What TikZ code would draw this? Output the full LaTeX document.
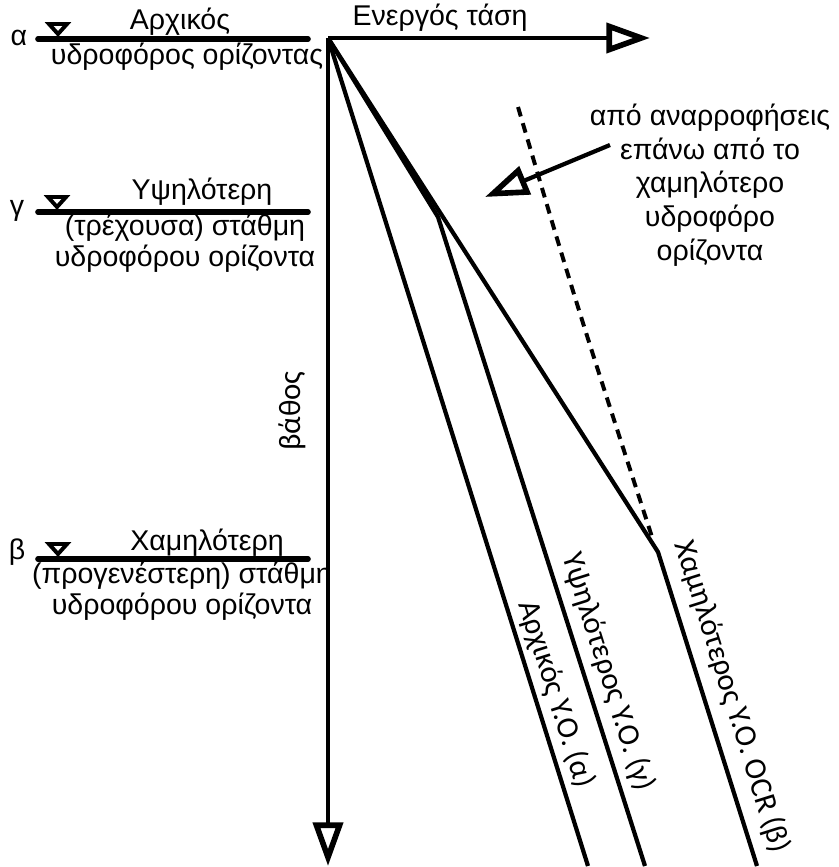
\documentclass[tikz,border=0pt]{standalone}
\usepackage{fontspec}
\setmainfont{Liberation Sans}
\newfontfamily\carlito{Carlito}
\usetikzlibrary{arrows.meta}

\begin{document}
\begin{tikzpicture}[x=0.025cm, y=-0.025cm,
        font=\fontsize{20.3}{22}\selectfont,
        heavy/.style={line width=3pt, line join=round},
        wtline/.style={line width=4pt, line cap=round},
        openhead/.style={-{Triangle[open, length=31pt, width=21pt, line width=4pt]}},
        tablemark/.style={line width=2.8pt, line join=miter},
        dotline/.style={line width=2.8pt, dash pattern=on 7pt off 5pt},
        linelabel/.style={font=\carlito\fontsize{22}{24}\selectfont, rotate=-72.5}]
        \useasboundingbox (0, 0) rectangle (838, 867);

        % axes
        \coordinate (O) at (328, 38);
        \coordinate (xend) at (650, 38);
        \coordinate (yend) at (328, 866);
        \draw[heavy, openhead] (O) -- (xend);
        \draw[heavy, openhead] (O) -- (yend);
        \node (stress) at (440, 18) {Ενεργός τάση};
        \node[rotate=90, font=\carlito\fontsize{22}{24}\selectfont] (depth) at (292, 411) {βάθος};

        % water tables
        \coordinate (wa1) at (38, 39);
        \coordinate (wa2) at (308, 39);
        \coordinate (wg1) at (38, 212);
        \coordinate (wg2) at (308, 212);
        \coordinate (wb1) at (38, 559);
        \coordinate (wb2) at (308, 559);
        \draw[wtline] (wa1) -- (wa2);
        \draw[wtline] (wg1) -- (wg2);
        \draw[wtline] (wb1) -- (wb2);
        \draw[tablemark] (58, 34) -- ++(-9, -10) -- ++(18, 0) -- cycle;
        \draw[tablemark] (57, 207) -- ++(-9, -10) -- ++(18, 0) -- cycle;
        \draw[tablemark] (58, 554) -- ++(-9, -10) -- ++(18, 0) -- cycle;

        \node (la) at (19, 38) {α};
        \node (lg) at (17, 211) {γ};
        \node (lb) at (17, 552) {β};
        \node (ta1) at (180, 22) {Αρχικός};
        \node (ta2) at (187, 57) {υδροφόρος ορίζοντας};
        \node (tg1) at (202, 192) {Υψηλότερη};
        \node[align=center] (tg2) at (185, 243) {(τρέχουσα) στάθμη\\υδροφόρου ορίζοντα};
        \node (tb1) at (207, 543) {Χαμηλότερη};
        \node[align=center] (tb2) at (182, 591) {(προγενέστερη) στάθμη\\υδροφόρου ορίζοντα};

        % profiles
        \coordinate (kg) at (438, 217);
        \coordinate (kb) at (658, 552);
        \coordinate (ea) at (588, 866);
        \coordinate (eg) at (645, 866);
        \coordinate (eb) at (757, 866);
        \draw[heavy] (O) -- (ea);
        \draw[heavy] (O) -- (kg) -- (eg);
        \draw[heavy] (O) -- (kb) -- (eb);
        \coordinate (dtop) at (518, 107);
        \coordinate (dbot) at (653, 540);
        \draw[dotline] (dtop) .. controls (575, 300) .. (dbot);

        \node[linelabel] (pa) at (556, 694) {Αρχικός Υ.Ο. (α)};
        \node[linelabel] (pg) at (608, 672) {Υψηλότερος Υ.Ο. (γ)};
        \node[linelabel] (pb) at (732, 697) {Χαμηλότερος Υ.Ο. OCR (β)};

        % note
        \node[align=center, font=\fontsize{20.3}{24}\selectfont] (note) at (710, 185)
            {από αναρροφήσεις\\επάνω από το\\χαμηλότερο\\υδροφόρο\\ορίζοντα};
        \coordinate (ptail) at (610, 145);
        \coordinate (phead) at (485, 197);
        \draw[heavy, openhead] (ptail) -- (phead);
\end{tikzpicture}
\end{document}
